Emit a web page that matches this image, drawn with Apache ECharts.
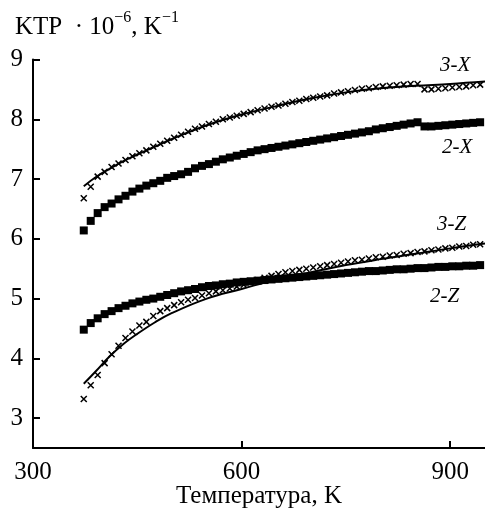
<!DOCTYPE html>
<html>
<head>
<meta charset="utf-8">
<script src="https://cdn.jsdelivr.net/npm/echarts@6/dist/echarts.min.js"></script>
<style>
html,body{margin:0;padding:0;background:#fff;}
#chart{width:485px;height:508px;}
</style>
</head>
<body>
<div id="chart"></div>
<script>
// Measurement temperatures (K)
var temps = [373,383,393,403,413,423,433,443,453,463,473,483,493,503,513,523,533,543,553,563,573,583,593,603,613,623,633,643,653,663,673,683,693,703,713,723,733,743,753,763,773,783,793,803,813,823,833,843,853,863,873,883,893,903,913,923,933,943];

// Series 3-X (crosses)
var s3X = [6.68,6.87,7.04,7.12,7.20,7.26,7.32,7.38,7.43,7.48,7.54,7.59,7.64,7.69,7.74,7.79,7.84,7.88,7.92,7.96,8.00,8.03,8.06,8.09,8.12,8.15,8.18,8.21,8.23,8.26,8.29,8.31,8.34,8.36,8.38,8.40,8.43,8.45,8.47,8.49,8.51,8.52,8.54,8.55,8.56,8.57,8.58,8.59,8.59,8.50,8.50,8.51,8.52,8.53,8.54,8.55,8.57,8.58];

// Series 2-X (squares)
var s2X = [6.14,6.30,6.43,6.53,6.59,6.66,6.72,6.79,6.84,6.89,6.93,6.97,7.02,7.05,7.08,7.12,7.18,7.22,7.25,7.29,7.33,7.36,7.39,7.42,7.45,7.48,7.50,7.52,7.54,7.56,7.58,7.60,7.62,7.64,7.66,7.68,7.70,7.72,7.74,7.76,7.78,7.80,7.83,7.85,7.87,7.89,7.91,7.93,7.95,7.88,7.88,7.89,7.90,7.91,7.92,7.93,7.94,7.95];

// Series 3-Z (crosses)
var s3Z = [3.32,3.55,3.72,3.92,4.07,4.21,4.34,4.45,4.55,4.61,4.71,4.79,4.84,4.89,4.94,4.98,5.01,5.05,5.09,5.12,5.14,5.17,5.20,5.23,5.27,5.31,5.35,5.38,5.41,5.44,5.46,5.48,5.50,5.52,5.54,5.56,5.58,5.60,5.62,5.64,5.65,5.67,5.69,5.70,5.72,5.73,5.75,5.76,5.78,5.79,5.81,5.82,5.84,5.85,5.87,5.88,5.90,5.91];

// Series 2-Z (squares)
var s2Z = [4.48,4.59,4.67,4.74,4.79,4.84,4.88,4.92,4.95,4.98,5.00,5.03,5.06,5.09,5.12,5.14,5.16,5.19,5.21,5.22,5.24,5.25,5.27,5.28,5.29,5.30,5.31,5.32,5.33,5.34,5.35,5.36,5.37,5.38,5.39,5.40,5.41,5.42,5.43,5.44,5.45,5.46,5.46,5.47,5.48,5.49,5.49,5.50,5.51,5.51,5.52,5.53,5.53,5.54,5.54,5.55,5.55,5.56];

// Fitted curves
var fitTemps = [373,390,410,430,450,475,500,550,600,650,700,750,800,850,900,950];
var fit3X = [6.88,7.03,7.17,7.30,7.41,7.54,7.67,7.90,8.08,8.22,8.35,8.45,8.52,8.56,8.59,8.63];
var fit3Z = [3.575,3.78,4.03,4.24,4.41,4.60,4.76,5.00,5.16,5.32,5.44,5.56,5.66,5.75,5.84,5.92];

// Tick labels
var xTicks = [300,600,900];
var yTicks = [3,4,5,6,7,8,9];

function pairs(xs, ys){ return xs.map(function(x,i){ return [x, ys[i]]; }); }

var serif = '"Liberation Serif","Times New Roman",serif';
var crossSymbol = 'path://M0,0L10,10M10,0L0,10';

var chart = echarts.init(document.getElementById('chart'), null, {renderer:'canvas'});
chart.setOption({
  animation: false,
  backgroundColor: '#fff',
  title: {
    left: 10, top: 5,
    text: '{a|KTP  · 10}{s|−6}{a|, K}{s|−1}',
    textStyle: {
      fontWeight: 'normal',
      rich: {
        a: {fontFamily: serif, fontSize: 25, fontWeight: 'normal', color: '#000', verticalAlign: 'bottom', lineHeight: 30},
        s: {fontFamily: serif, fontSize: 16, fontWeight: 'normal', color: '#000', verticalAlign: 'top', lineHeight: 30, padding:[0,0,14,0]}
      }
    }
  },
  grid: {left: 33, right: 0, top: 59.5, bottom: 60, containLabel: false, outerBoundsMode: 'none'},
  xAxis: {
    type: 'value', min: 300, max: 950,
    name: 'Температура, K', nameLocation: 'middle', nameGap: 36, nameMoveOverlap: false,
    nameTextStyle: {fontFamily: serif, fontSize: 25, color: '#000'},
    axisLine: {show: true, onZero: false, lineStyle: {color: '#000', width: 2}},
    axisTick: {show: true, inside: true, length: 7, lineStyle: {color: '#000', width: 2}, customValues: xTicks},
    axisLabel: {fontFamily: serif, fontSize: 25, color: '#000', margin: 12, customValues: xTicks},
    splitLine: {show: false}
  },
  yAxis: {
    type: 'value', min: 2.5, max: 9,
    axisLine: {show: true, onZero: false, lineStyle: {color: '#000', width: 2}},
    axisTick: {show: true, inside: true, length: 7, lineStyle: {color: '#000', width: 2}, customValues: yTicks},
    axisLabel: {fontFamily: serif, fontSize: 25, color: '#000', margin: 10, customValues: yTicks},
    splitLine: {show: false}
  },
  graphic: [
    {type:'text', left: 440, top: 55, style:{text:'3-X', font:'italic 21px ' + serif, fill:'#000'}},
    {type:'text', left: 442, top: 137, style:{text:'2-X', font:'italic 21px ' + serif, fill:'#000'}},
    {type:'text', left: 437, top: 214, style:{text:'3-Z', font:'italic 21px ' + serif, fill:'#000'}},
    {type:'text', left: 430, top: 286, style:{text:'2-Z', font:'italic 21px ' + serif, fill:'#000'}}
  ],
  series: [
    {name:'2-X', type:'scatter', data: pairs(temps, s2X), symbol:'rect', symbolSize: 8, itemStyle:{color:'#000', opacity: 1}},
    {name:'2-Z', type:'scatter', data: pairs(temps, s2Z), symbol:'rect', symbolSize: 8, itemStyle:{color:'#000', opacity: 1}},
    {name:'3-X', type:'scatter', data: pairs(temps, s3X), symbol: crossSymbol, symbolSize: 6,
      itemStyle:{color:'rgba(0,0,0,0)', borderColor:'#000', borderWidth:1.5, opacity: 1}},
    {name:'3-Z', type:'scatter', data: pairs(temps, s3Z), symbol: crossSymbol, symbolSize: 6,
      itemStyle:{color:'rgba(0,0,0,0)', borderColor:'#000', borderWidth:1.5, opacity: 1}},
    {name:'fit 3-X', type:'line', data: pairs(fitTemps, fit3X), smooth: 0.4, showSymbol:false, symbol:'none',
      lineStyle:{color:'#000', width:2}},
    {name:'fit 3-Z', type:'line', data: pairs(fitTemps, fit3Z), smooth: 0.4, showSymbol:false, symbol:'none',
      lineStyle:{color:'#000', width:2}}
  ]
});
</script>
</body>
</html>
